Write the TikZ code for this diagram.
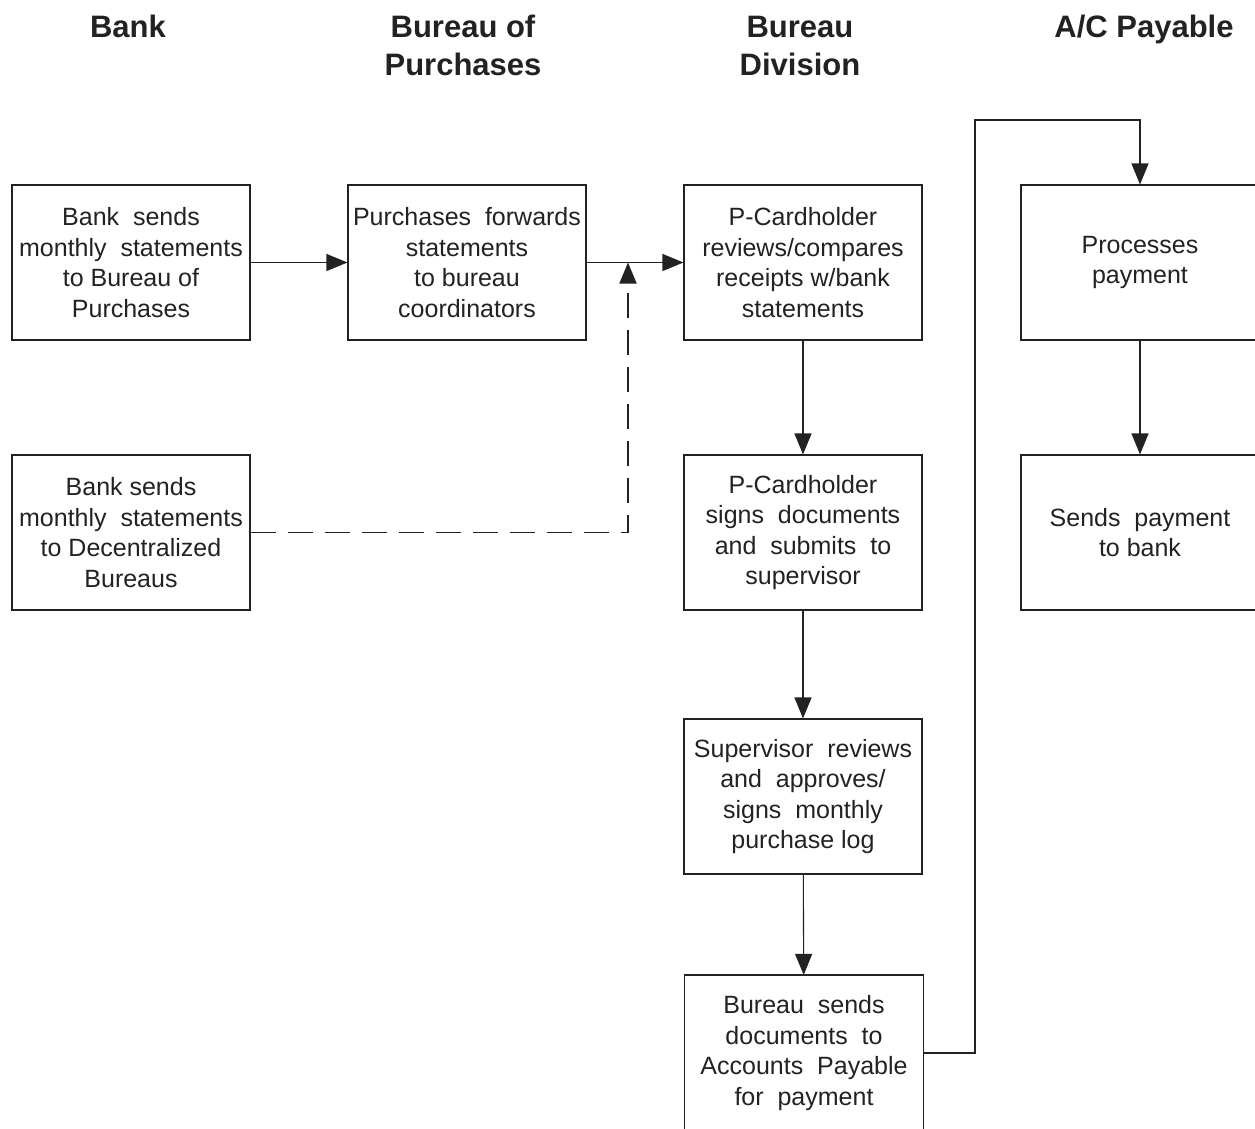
\documentclass[tikz,border=0pt]{standalone}
\usepackage{fontspec}
\setmainfont{Liberation Sans}
\usetikzlibrary{arrows.meta}
\definecolor{ink}{HTML}{222222}
\begin{document}
\begin{tikzpicture}[x=1pt,y=-1pt,line width=1.1pt,draw=ink,
  stepbox/.style={draw=ink,minimum width=238pt,minimum height=155pt,
    inner sep=0pt,align=center,text=ink,font=\fontsize{25pt}{30.5pt}\selectfont},
  header/.style={anchor=base,align=center,text=ink,font=\fontsize{31pt}{38pt}\selectfont\bfseries},
  arr/.style={-{Triangle[length=21pt,width=17pt]}},
  dashline/.style={line width=1.8pt,dash pattern=on 25pt off 12pt}]
\useasboundingbox (0,0) rectangle (1255,1128);

% column headings (base anchor sits on the last line's baseline)
\node[header] (hbank) at (128,37) {Bank};
\node[header] (hpurch) at (463,75) {Bureau of\\Purchases};
\node[header] (hdiv) at (800,75) {Bureau\\Division};
\node[header] (hap) at (1144,37) {A/C Payable};

% process boxes
\node[stepbox] (bank1) at (131,262.5) {Bank\ \ sends\\monthly\ \ statements\\to Bureau of\\Purchases};
\node[stepbox] (bank2) at (131,532.5) {Bank sends\\monthly\ \ statements\\to Decentralized\\Bureaus};
\node[stepbox] (purch) at (467,262.5) {Purchases\ \ forwards\\statements\\to bureau\\coordinators};
\node[stepbox] (pc1) at (803,262.5) {P-Cardholder\\reviews/compares\\receipts w/bank\\statements};
\node[stepbox] (pc2) at (803,532.5) {P-Cardholder\\signs\ \ documents\\and\ \ submits\ \ to\\supervisor};
\node[stepbox] (sup) at (803,796.5) {Supervisor\ \ reviews\\and\ \ approves/\\signs\ \ monthly\\purchase log};
\node[stepbox,draw=none] (bsend) at (804,1053) {Bureau\ \ sends\\documents\ \ to\\Accounts\ \ Payable\\for\ \ payment};
\node[stepbox] (ap1) at (1140,262.5) {Processes\\payment};
\node[stepbox] (ap2) at (1140,532.5) {Sends\ \ payment\\to bank};

% last box runs past the lower edge of the sheet
\draw (bsend.south west) ++(0,20) -- (bsend.north west) -- (bsend.north east) -- ++(0,175);

% connectors
\coordinate (join) at (628,262.5);
\draw[arr] (bank1) -- (purch);
\draw[arr] (purch) -- (pc1);
\draw[arr,dashline] (bank2.east) -| (join);
\draw[arr] (pc1) -- (pc2);
\draw[arr] (pc2) -- (sup);
\draw[arr] (sup) -- (bsend);
\draw[arr] (bsend.east) -| (975,120) -| (ap1.north);
\draw[arr] (ap1) -- (ap2);
\end{tikzpicture}
\end{document}
